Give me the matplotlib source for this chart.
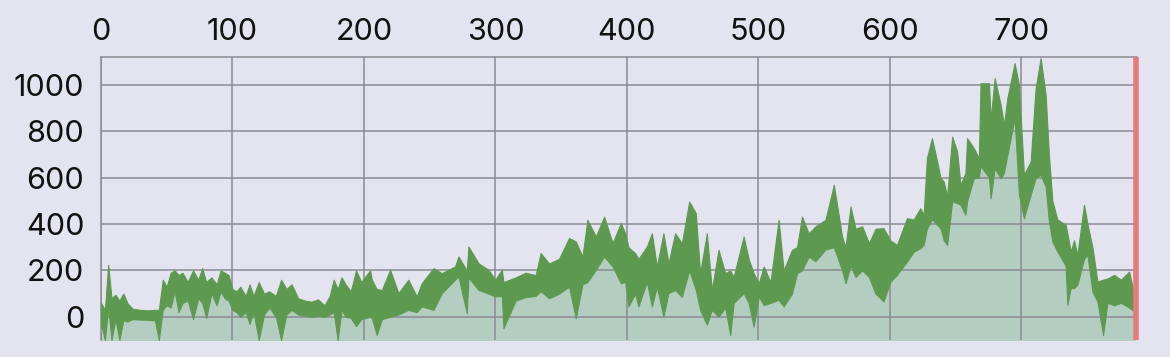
import numpy as np
import matplotlib.pyplot as plt

# --------------------------------------------
# Data
# --------------------------------------------

x_pos = [
    0, 3, 5.5, 8, 11, 14, 17, 20, 24, 30, 36, 41, 44, 47, 50, 53, 56, 59, 62, 66,
    70, 74, 77, 80, 84, 88, 91, 94, 97, 100, 103, 106, 110, 113, 116, 120, 124, 128, 133, 137,
    141, 145, 150, 155, 160, 165, 170, 174, 177, 180, 183, 186, 190, 194, 198, 204.7, 206, 209.7, 213.6, 219.9,
    226.2, 233.8, 240.1, 244, 252.9, 259.2, 269.3, 271.9, 278.2, 279.5, 287.1, 294.7, 299.8, 304.9, 306.1, 315.4, 323, 330.6, 334.4, 340.8,
    348.4, 356, 361.1, 366.2, 370, 376.4, 382.7, 389.1, 395.4, 398.7, 401.2, 406.3, 408.8, 415.2, 419, 422.8, 427.8, 431.6, 436.7, 441.8,
    447.4, 452.4, 455.7, 460.8, 464.6, 469.7, 474.8, 478.6, 481.2, 488.8, 492.6, 496.4, 500.3, 504.1, 509.2, 515.4, 519.2, 525.6, 529.4, 533.2,
    538.3, 543.4, 551, 557.4, 563.7, 566.3, 570.1, 573.9, 579, 584.1, 589.1, 595.2, 600.3, 605.4, 613, 618.1, 623.2, 625.7, 628.2, 632,
    636, 638.5, 641, 643.6, 647.4, 651.2, 653.7, 657.5, 658.8, 663.9, 667.7, 669, 675.4, 676.7, 679.7, 684.3, 686.8, 689.4, 694.9, 698.2,
    702, 707.1, 710.9, 714.7, 718.5, 721, 723.6, 727.4, 733.7, 735, 737.6, 740.1, 742.6, 747.7, 750.3, 754.1, 757.9, 762.2, 765.5, 770.6,
    775.7, 782, 785.9, 787,
]

upper = [
    60, 30, 224, 80, 95, 70, 100, 60, 35, 30, 28, 30, 30, 160, 130, 190, 200, 180, 190, 150,
    200, 160, 210, 150, 170, 140, 200, 190, 180, 120, 110, 130, 90, 140, 90, 150, 100, 110, 90, 160,
    120, 140, 80, 70, 65, 75, 50, 90, 160, 120, 170, 140, 110, 200, 150, 200, 160, 120, 116, 203,
    102, 160, 88, 145, 210, 188, 217, 260, 200, 303, 231, 203, 160, 203, 150, 170, 190, 180, 275, 230,
    250, 340, 325, 260, 418, 346, 432, 318, 404, 360, 300, 274, 250, 303, 360, 217, 360, 231, 360, 317,
    497, 447, 188, 360, 116, 289, 188, 200, 172, 346, 250, 188, 145, 217, 150, 418, 200, 289, 300, 432,
    360, 390, 418, 569, 346, 300, 476, 380, 390, 317, 380, 382, 330, 310, 425, 420, 468, 440, 684, 770,
    670, 600, 583, 520, 777, 713, 569, 620, 770, 727, 684, 1007, 1007, 850, 1029, 914, 828, 943, 1094, 1000,
    612, 670, 986, 1115, 957, 698, 500, 420, 397, 360, 282, 330, 267, 483, 400, 300, 152, 160, 165, 181,
    160, 195, 95, 90,
]

lower = [
    -30, -100, 40, -100, -10, -100, -15, -20, -10, -12, -13, -15, -100, 30, 50, 40, 110, 20, 60, 70,
    -10, 80, 60, -5, 100, 50, 110, 80, 70, 30, 20, 0, 20, -30, 20, -100, 10, 40, 0, -100,
    10, 30, 10, 5, 0, 5, 0, 10, 20, -100, 30, 0, -5, -40, -10, 0, -5, -78, -10, 0,
    10, 30, 20, 45, 30, 102, 160, 174, 16, 170, 116, 100, 88, 90, -49, 70, 85, 90, 110, 80,
    100, 130, -6, 140, 150, 203, 260, 217, 145, 150, 45, 100, 45, 150, 45, 130, 0, 102, 116, 86,
    200, 116, 30, -34, 30, 0, 40, -78, 60, 102, 60, -42, 88, 50, 60, 73, 45, 100, 188, 200,
    260, 240, 290, 300, 200, 145, 220, 172, 200, 172, 100, 66, 150, 181, 238, 280, 296, 310, 380, 420,
    397, 382, 330, 310, 497, 490, 483, 440, 500, 598, 600, 650, 600, 511, 640, 598, 620, 698, 856, 526,
    425, 526, 598, 612, 560, 411, 325, 282, 220, 52, 124, 124, 138, 250, 267, 109, 66, -78, 60, 50,
    60, 40, 23, 20,
]

x_ticks = [0, 100, 200, 300, 400, 500, 600, 700]
y_ticks = [0, 200, 400, 600, 800, 1000]
marker_x = 787

# --------------------------------------------
# Plot
# --------------------------------------------

bg = "#e3e4f0"
plt.rcParams["font.family"] = ["Inter", "DejaVu Sans"]

fig = plt.figure(figsize=(11.7, 3.57), dpi=100, facecolor=bg)
ax = fig.add_axes([0.0863, 0.0476, 0.8855, 0.7927])
ax.set_facecolor(bg)

x = np.array(x_pos)
up = np.array(upper)
lo = np.array(lower)

# light fill under the band, grid sits between it and the green band
ax.fill_between(x, -200, lo, color="#b3cdc1", lw=0, zorder=2)
ax.fill_between(x, lo, up, color="#5e9950", lw=0.8, edgecolor="#5e9950", zorder=3)
ax.axvline(marker_x, color="#e77b7b", lw=4, zorder=4, clip_on=False,
           solid_capstyle="butt")

ax.set_xlim(0, 788)
ax.set_ylim(-100, 1120)
ax.set_xticks(x_ticks)
ax.set_yticks(y_ticks)
ax.set_axisbelow(False)
ax.grid(True, color="#8a8a92", lw=1.1)

ax.xaxis.tick_top()
ax.tick_params(axis="both", length=0, labelsize=22, colors="#111111")
ax.tick_params(axis="x", pad=8)
ax.tick_params(axis="y", pad=12)

for side in ["bottom", "right"]:
    ax.spines[side].set_visible(False)
for side in ["left", "top"]:
    ax.spines[side].set_color("#8a8a92")
    ax.spines[side].set_linewidth(1.1)

plt.savefig("out.png", dpi=100, facecolor=bg)
